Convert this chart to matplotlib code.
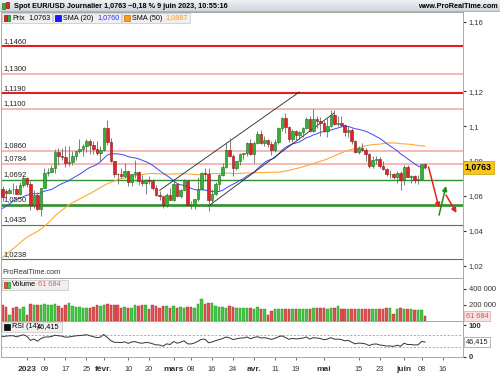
import numpy as np
import pandas as pd
import matplotlib
matplotlib.use("Agg")
import matplotlib.pyplot as plt
from matplotlib.patches import Rectangle

plt.rcParams['font.family'] = ['Liberation Sans', 'DejaVu Sans']

W, H = 500, 375

# daily candles EUR/USD, 22 dec 2022 -> 9 juin 2023
dates = pd.bdate_range("2022-12-22", "2023-06-09")
opens = [
    1.0640, 1.0630, 1.0617, 1.0640, 1.0638, 1.0612, 1.0660,
    1.0705, 1.0669, 1.0546, 1.0606, 1.0523, 1.0644, 1.0734, 1.0737, 1.0760, 1.0851,
    1.0831, 1.0821, 1.0788, 1.0796, 1.0828, 1.0855, 1.0870, 1.0885, 1.0914, 1.0891,
    1.0868, 1.0845,
    1.0863, 1.0990, 1.0910, 1.0798, 1.0727, 1.0725, 1.0713, 1.0740, 1.0677, 1.0724,
    1.0737, 1.0688, 1.0673, 1.0694, 1.0686, 1.0646, 1.0604, 1.0597, 1.0547, 1.0607,
    1.0577, 1.0667, 1.0600, 1.0634, 1.0683, 1.0550, 1.0545, 1.0580, 1.0642, 1.0732,
    1.0727, 1.0577, 1.0610, 1.0667, 1.0719, 1.0768, 1.0866, 1.0831, 1.0759, 1.0799,
    1.0843, 1.0844, 1.0904,
    1.0839, 1.0904, 1.0955, 1.0906, 1.0921, 1.0900, 1.0862, 1.0911, 1.0990, 1.1047,
    1.0994, 1.0927, 1.0971, 1.0951, 1.0967, 1.0990, 1.1044, 1.0973, 1.1043, 1.1030,
    1.1018, 1.0973, 1.1000, 1.1064, 1.1015, 1.1018, 1.1005, 1.0964, 1.0980, 1.0915,
    1.0850, 1.0873, 1.0863, 1.0838, 1.0771, 1.0805, 1.0814, 1.0770, 1.0752, 1.0724,
    1.0726, 1.0710, 1.0734,
    1.0689, 1.0763, 1.0710, 1.0712, 1.0694, 1.0697, 1.0781,
]
highs = [
    1.0657, 1.0640, 1.0648, 1.0672, 1.0664, 1.0678, 1.0713,
    1.0711, 1.0683, 1.0636, 1.0620, 1.0647, 1.0760, 1.0760, 1.0777, 1.0868, 1.0874,
    1.0875, 1.0887, 1.0887, 1.0857, 1.0859, 1.0927, 1.0895, 1.0928, 1.0929, 1.0914,
    1.0915, 1.0886,
    1.0995, 1.1033, 1.0935, 1.0802, 1.0733, 1.0760, 1.0790, 1.0745, 1.0725, 1.0805,
    1.0740, 1.0718, 1.0697, 1.0715, 1.0695, 1.0665, 1.0628, 1.0602, 1.0615, 1.0647,
    1.0691, 1.0672, 1.0640, 1.0695, 1.0694, 1.0568, 1.0584, 1.0706, 1.0735, 1.0760,
    1.0760, 1.0638, 1.0680, 1.0727, 1.0787, 1.0911, 1.0930, 1.0840, 1.0803, 1.0845,
    1.0848, 1.0908, 1.0925,
    1.0917, 1.0973, 1.0976, 1.0941, 1.0925, 1.0914, 1.0925, 1.0998, 1.1050, 1.1076,
    1.0999, 1.0985, 1.0979, 1.0972, 1.0996, 1.1050, 1.1057, 1.1096, 1.1060, 1.1051,
    1.1031, 1.1045, 1.1091, 1.1092, 1.1056, 1.1057, 1.1011, 1.1000, 1.0988, 1.0920,
    1.0885, 1.0904, 1.0874, 1.0845, 1.0830, 1.0830, 1.0825, 1.0802, 1.0760, 1.0747,
    1.0730, 1.0745, 1.0740,
    1.0779, 1.0780, 1.0722, 1.0720, 1.0718, 1.0785, 1.0786,
]
lows = [
    1.0573, 1.0588, 1.0610, 1.0613, 1.0610, 1.0608, 1.0652,
    1.0650, 1.0520, 1.0530, 1.0519, 1.0483, 1.0643, 1.0713, 1.0735, 1.0734, 1.0780,
    1.0805, 1.0766, 1.0770, 1.0780, 1.0805, 1.0846, 1.0831, 1.0853, 1.0839, 1.0838,
    1.0836, 1.0800,
    1.0860, 1.0890, 1.0793, 1.0711, 1.0669, 1.0705, 1.0701, 1.0655, 1.0657, 1.0705,
    1.0660, 1.0658, 1.0612, 1.0671, 1.0631, 1.0597, 1.0577, 1.0533, 1.0535, 1.0576,
    1.0570, 1.0593, 1.0589, 1.0631, 1.0548, 1.0524, 1.0525, 1.0569, 1.0640, 1.0687,
    1.0515, 1.0550, 1.0604, 1.0635, 1.0716, 1.0760, 1.0826, 1.0713, 1.0749, 1.0780,
    1.0810, 1.0829, 1.0837,
    1.0788, 1.0896, 1.0898, 1.0885, 1.0878, 1.0832, 1.0851, 1.0897, 1.0973, 1.0963,
    1.0910, 1.0909, 1.0914, 1.0925, 1.0937, 1.0982, 1.0967, 1.0964, 1.0988, 1.0945,
    1.0967, 1.0940, 1.0995, 1.1005, 1.0999, 1.0995, 1.0945, 1.0940, 1.0895, 1.0845,
    1.0840, 1.0860, 1.0800, 1.0760, 1.0760, 1.0785, 1.0762, 1.0748, 1.0713, 1.0700,
    1.0695, 1.0675, 1.0635,
    1.0665, 1.0706, 1.0676, 1.0673, 1.0667, 1.0690, 1.0755,
]
closes = [
    1.0595, 1.0617, 1.0635, 1.0638, 1.0612, 1.0660, 1.0705,
    1.0669, 1.0546, 1.0606, 1.0523, 1.0644, 1.0734, 1.0737, 1.0760, 1.0851, 1.0831,
    1.0821, 1.0788, 1.0796, 1.0828, 1.0855, 1.0870, 1.0885, 1.0914, 1.0891, 1.0868,
    1.0845, 1.0863,
    1.0990, 1.0910, 1.0798, 1.0727, 1.0725, 1.0713, 1.0740, 1.0677, 1.0724, 1.0737,
    1.0688, 1.0673, 1.0694, 1.0686, 1.0646, 1.0604, 1.0597, 1.0547, 1.0607, 1.0577,
    1.0667, 1.0600, 1.0634, 1.0683, 1.0550, 1.0545, 1.0580, 1.0642, 1.0732, 1.0727,
    1.0577, 1.0610, 1.0667, 1.0719, 1.0768, 1.0866, 1.0831, 1.0759, 1.0799, 1.0843,
    1.0844, 1.0904, 1.0839,
    1.0904, 1.0955, 1.0906, 1.0921, 1.0900, 1.0862, 1.0911, 1.0990, 1.1047, 1.0994,
    1.0927, 1.0971, 1.0951, 1.0967, 1.0990, 1.1044, 1.0973, 1.1043, 1.1030, 1.1018,
    1.0973, 1.1000, 1.1064, 1.1015, 1.1018, 1.1005, 1.0964, 1.0980, 1.0915, 1.0850,
    1.0873, 1.0863, 1.0838, 1.0771, 1.0805, 1.0814, 1.0770, 1.0752, 1.0724, 1.0726,
    1.0710, 1.0734, 1.0689,
    1.0763, 1.0710, 1.0712, 1.0694, 1.0697, 1.0781, 1.0763,
]
volumes_k = [
    194, 173, 81, 166, 173, 154, 173,
    73, 214, 206, 202, 202, 214, 202, 194, 214, 185,
    166, 202, 225, 185, 180, 173, 166, 166, 166, 173,
    194, 185, 194, 214, 202, 194, 194, 166, 173, 166,
    166, 202, 185, 194, 194, 145, 194, 185, 166, 185,
    185, 166, 185, 166, 173, 166, 173, 173, 166, 214,
    275, 214, 222, 222, 185, 173, 173, 166, 185, 173,
    166, 166, 166, 160, 160,
    154, 173, 154, 145, 73,
    121, 145, 154, 154, 154, 154, 154, 154, 154, 154,
    154, 154, 162, 162, 162, 162, 154, 162, 162, 182,
    145, 154, 154, 154, 154, 154, 154, 145, 154, 154,
    154, 154, 154, 162, 162,
    93, 154, 162, 154, 145, 145, 141, 133, 133, 61.684,
]
# closes before the window, only needed to start the SMA / RSI
prior_closes = [
    0.9705, 0.9780, 0.9722, 0.9838, 0.9856, 0.9774, 0.9780, 0.9862, 0.9877, 0.9965,
    1.0079, 0.9964, 0.9965, 0.9882,
    0.9874, 0.9818, 0.9750, 0.9960, 1.0020, 1.0074, 1.0011, 1.0202, 1.0357, 1.0327,
    1.0350, 1.0395, 1.0362, 1.0325, 1.0244, 1.0305, 1.0396, 1.0406, 1.0398, 1.0339,
    1.0328, 1.0406,
    1.0521, 1.0536, 1.0495, 1.0468, 1.0506, 1.0555, 1.0530, 1.0538, 1.0631, 1.0683,
    1.0627, 1.0586, 1.0609, 1.0622, 1.0600,
]

resistances = [1.1460, 1.1300, 1.1190, 1.1100, 1.0860, 1.0784]
supports = [1.0692, 1.0550, 1.0435, 1.0238]
strong = [1.1460, 1.1190, 1.0550]

# trend channel and arrows, (date, price)
channel_top = [("2023-02-23", 1.0632), ("2023-04-20", 1.1196)]
channel_low = [("2023-03-15", 1.0542), ("2023-05-04", 1.1076)]
arrows = [
    (("2023-06-12", 1.0766), ("2023-06-15", 1.0531), "#e8201e"),
    (("2023-06-15", 1.0490), ("2023-06-19", 1.0657), "#1e8a1e"),
    (("2023-06-19", 1.0605), ("2023-06-22", 1.0502), "#e8201e"),
]

xtick_dates = ["2023-01-02", "2023-01-09", "2023-01-17", "2023-01-25", "2023-02-01",
               "2023-02-10", "2023-02-20", "2023-03-01", "2023-03-08", "2023-03-16",
               "2023-03-24", "2023-04-03", "2023-04-11", "2023-04-19", "2023-05-01",
               "2023-05-15", "2023-05-23", "2023-06-01", "2023-06-08", "2023-06-16"]
xtick_labels = ["2023", "09", "17", "25", "févr.", "10", "20", "mars", "08", "16",
                "24", "avr.", "11", "19", "mai", "15", "23", "juin", "08", "16"]
bold_labels = ["2023", "févr.", "mars", "avr.", "mai", "juin"]


def pos(d):
    # trading day index, 0 = 2 janv. 2023
    return np.busday_count("2023-01-02", pd.Timestamp(d).date())


xs = np.array([pos(d) for d in dates])
o = np.array(opens); h = np.array(highs); l = np.array(lows); c = np.array(closes)
vol = np.array(volumes_k) * 1000

s = pd.Series(prior_closes + closes)
sma20 = s.rolling(20).mean().values[-len(closes):]
sma50 = s.rolling(50).mean().values[-len(closes):]
d = s.diff()
ag = d.clip(lower=0).ewm(alpha=1 / 14, adjust=False).mean()
al = (-d.clip(upper=0)).ewm(alpha=1 / 14, adjust=False).mean()
rsi = (100 - 100 / (1 + ag / al)).values[-len(closes):]

fig = plt.figure(figsize=(5, 3.75), dpi=100)


def fx(px):
    return px / W


def fy(py):
    return 1 - py / H


def panel(top, bottom):
    return fig.add_axes([fx(1), fy(bottom), fx(463) - fx(1), (bottom - top) / H])


def box(x0, y0, x1, y1, fc, ec):
    fig.add_artist(Rectangle((fx(x0), fy(y1)), (x1 - x0) / W, (y1 - y0) / H,
                             transform=fig.transFigure, fc=fc, ec=ec, lw=0.5))


ax_p = panel(12, 278)
ax_v = panel(278, 321)
ax_r = panel(321, 357)
x_lo, x_hi = -7.43, 124.86

for ax in (ax_p, ax_v, ax_r):
    ax.set_xlim(x_lo, x_hi)
    ax.yaxis.tick_right()
    ax.tick_params(axis='y', labelsize=5.5, length=2, pad=2, colors='#333333')
    ax.tick_params(axis='x', length=0)
    ax.set_xticks([])
    for sp in ax.spines.values():
        sp.set_color('#a8a8a8')
        sp.set_linewidth(0.7)

# price panel
ax_p.set_ylim(1.0129, 1.1655)
pticks = [1.02, 1.04, 1.06, 1.08, 1.10, 1.12, 1.16]
ax_p.set_yticks(pticks)
ax_p.set_yticklabels([("%g" % t).replace('.', ',') for t in pticks])

for lv in resistances + supports:
    col = ('#e41e1e' if lv in strong else '#f4a4a4') if lv in resistances else '#2e902e'
    lw = 1.5 if lv in strong else (1.1 if lv in resistances else 0.8)
    if lv == 1.0550:
        lw = 1.9
    if lv == 1.0692:
        lw = 1.0
    ax_p.axhline(lv, color=col, lw=lw, zorder=2)
    ax_p.text(0.006, lv + 0.0008, ("%.4f" % lv).replace('.', ','), fontsize=5.5,
              color='#222222', transform=ax_p.get_yaxis_transform(), va='bottom', zorder=6)

ax_p.plot(xs, sma50, color='#ffa83a', lw=0.8, zorder=3)
ax_p.plot(xs, sma20, color='#3a46ff', lw=0.7, zorder=3)

for (d0, p0), (d1, p1) in (channel_top, channel_low):
    ax_p.plot([pos(d0), pos(d1)], [p0, p1], color='#222222', lw=0.6, zorder=3)

up = c >= o
ax_p.vlines(xs, l, h, color='#6a6a6a', lw=0.6, zorder=4)
ax_p.bar(xs, np.maximum(np.abs(c - o), 0.00025), bottom=np.minimum(o, c), width=0.72,
         color=np.where(up, '#2db82d', '#e3222a'), edgecolor=np.where(up, '#1b6b1b', '#861414'),
         linewidth=0.4, zorder=5)

for (d0, p0), (d1, p1), col in arrows:
    ax_p.annotate("", xy=(pos(d1), p1), xytext=(pos(d0), p0),
                  arrowprops=dict(arrowstyle='-|>', color=col, lw=1.1, mutation_scale=7,
                                  shrinkA=0, shrinkB=0), zorder=7, annotation_clip=False)

ax_p.text(1.004, c[-1], ("%.4f" % c[-1]).replace('.', ','), transform=ax_p.get_yaxis_transform(),
          fontsize=6.3, fontweight='bold', va='center', ha='left', zorder=10, clip_on=False,
          bbox=dict(boxstyle='square,pad=0.22', fc='#f6c61c', ec='#c89b00', lw=0.5))
ax_p.text(0.004, 1.0129 + 0.0012, "ProRealTime.com", fontsize=5.3, color='#333333',
          transform=ax_p.get_yaxis_transform(), va='bottom')

# volume panel
ax_v.set_ylim(0, 537000)
ax_v.set_yticks([200000, 400000])
ax_v.set_yticklabels(["200 000", "400 000"])
ax_v.bar(xs, vol, width=0.72, color=np.where(up, '#45c845', '#e05252'),
         edgecolor=np.where(up, '#2a8f2a', '#a83030'), linewidth=0.3)
ax_v.text(1.006, vol[-1], "61 684", transform=ax_v.get_yaxis_transform(), fontsize=5.3,
          color='#e05050', va='center', ha='left', clip_on=False,
          bbox=dict(boxstyle='square,pad=0.2', fc='#f8e2e2', ec='#d0a8a8', lw=0.5))

# rsi panel
ax_r.set_ylim(-1, 113.4)
ax_r.set_yticks([0, 100])
ax_r.set_yticklabels(["0", "100"])
for lab in ax_r.get_yticklabels():
    lab.set_fontweight('bold')
for lv in (70, 30):
    ax_r.axhline(lv, color='#a0a0a0', lw=0.6, ls=(0, (2.5, 2)))
ax_r.plot(xs, rsi, color='#333333', lw=0.7)
ax_r.text(1.006, rsi[-1], "46,415", transform=ax_r.get_yaxis_transform(), fontsize=5.3,
          color='#222222', va='center', ha='left', clip_on=False,
          bbox=dict(boxstyle='square,pad=0.2', fc='white', ec='#999999', lw=0.5))

ax_r.set_xticks([pos(t) for t in xtick_dates])
ax_r.set_xticklabels(xtick_labels)
ax_r.tick_params(axis='x', length=2.5, pad=4, labelsize=5.3, colors='#333333', width=0.5)
for lab in ax_r.get_xticklabels():
    if lab.get_text() in bold_labels:
        lab.set_fontweight('bold')
        lab.set_fontsize(6)

# header bar
ax_h = fig.add_axes([0, fy(11), 1, 11 / H])
ax_h.imshow(np.linspace(0, 1, 20).reshape(-1, 1), aspect='auto', extent=[0, 1, 0, 1],
            cmap=matplotlib.colors.LinearSegmentedColormap.from_list('g', ['#eef1f4', '#cfd6de']))
ax_h.set_xlim(0, 1); ax_h.set_ylim(0, 1)
ax_h.axis('off')
fig.add_artist(plt.Line2D([0, 1], [fy(11), fy(11)], transform=fig.transFigure, color='#9aa4ae', lw=0.6))
box(2, 3, 5, 9, '#2db82d', '#1b6b1b')
box(6, 2, 9, 8, '#e3222a', '#861414')
fig.text(fx(14), fy(6), "Spot EUR/USD Journalier 1,0763 \u22120,18 % 9 juin 2023, 10:55:16",
         fontsize=5.2, fontweight='bold', va='center')
fig.text(fx(498), fy(6), "www.ProRealTime.com", fontsize=5.2, fontweight='bold',
         va='center', ha='right')

# legend boxes
box(2, 13, 52, 23, '#efefef', '#c4c4c4')
box(4, 15, 7, 21, '#e3222a', '#861414')
box(7, 15, 10, 21, '#2db82d', '#1b6b1b')
fig.text(fx(12), fy(18), "Prix", fontsize=5.2, va='center')
fig.text(fx(28), fy(18), "1,0763", fontsize=5.2, va='center')
box(53, 13, 121, 23, '#efefef', '#c4c4c4')
box(55, 15, 61, 21, '#1a1aff', '#0000aa')
fig.text(fx(63), fy(18), "SMA (20)", fontsize=5.2, va='center')
fig.text(fx(97), fy(18), "1,0760", fontsize=5.2, va='center', color='#2a2aff')
box(122, 13, 190, 23, '#efefef', '#c4c4c4')
box(124, 15, 130, 21, '#ff9a1a', '#c77000')
fig.text(fx(132), fy(18), "SMA (50)", fontsize=5.2, va='center')
fig.text(fx(165), fy(18), "1,0887", fontsize=5.2, va='center', color='#ff9a1a')

box(2, 280, 68, 290, '#efefef', '#c4c4c4')
box(4, 282, 7, 288, '#e05252', '#a83030')
box(7, 282, 10, 288, '#45c845', '#2a8f2a')
fig.text(fx(12), fy(285), "Volume", fontsize=5.2, va='center')
fig.text(fx(38), fy(285), "61 684", fontsize=5.2, va='center', color='#e06060')

box(2, 322, 62, 332, '#efefef', '#c4c4c4')
box(4, 324, 10, 330, '#111111', '#000000')
fig.text(fx(12), fy(327), "RSI (14)", fontsize=5.2, va='center')
fig.text(fx(37), fy(327), "46,415", fontsize=5.2, va='center')

fig.savefig("out.png", dpi=100)
